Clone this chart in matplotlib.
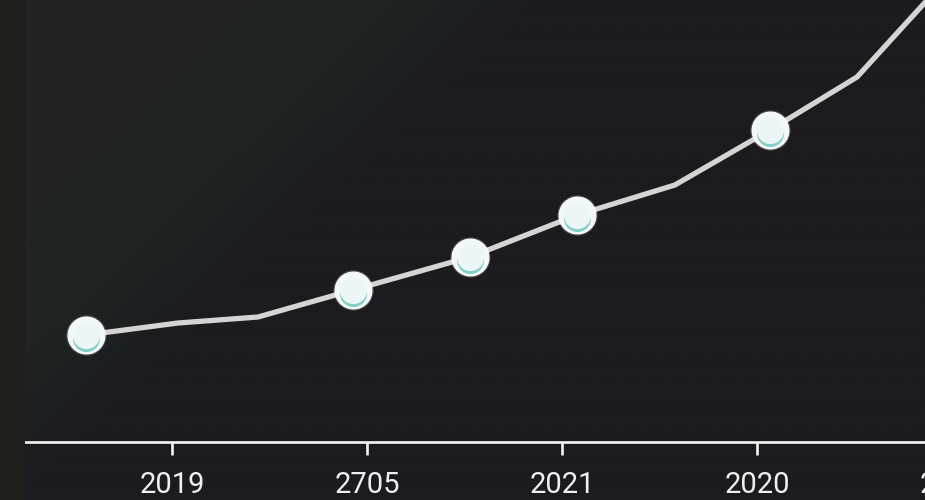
import numpy as np
import matplotlib
matplotlib.use("Agg")
import matplotlib.pyplot as plt
from matplotlib.transforms import offset_copy
from matplotlib.patches import Rectangle

# ---- data ----
tick_labels = ["2019", "2705", "2021", "2020", "2022"]
tick_pos = [0, 1, 2, 3, 4]
x_vals = [-0.441, 0.031, 0.441, 0.928, 1.528, 2.077, 2.579, 3.067, 3.513, 3.99]
y_vals = [107, 119, 125, 152, 185, 227, 257, 312, 365, 467]
marker_idx = [0, 3, 4, 5, 7]

W, H, DPI = 925, 500, 100
fig = plt.figure(figsize=(W / DPI, H / DPI), dpi=DPI)
fig.patch.set_facecolor("#1c1b1f")

# left strip
fig.patches.append(Rectangle((0, 0), 25 / W, 1, transform=fig.transFigure,
                             facecolor="#1e1e1c", edgecolor="none", zorder=0))

# background gradient (decoration)
bg = fig.add_axes([25 / W, 0, 900 / W, 1])
bg.set_axis_off()
px = np.linspace(25, 925, 300)
py = np.linspace(0, 500, 170)
PX, PY = np.meshgrid(px, py)
s = PX + 1.05 * PY
light = np.array([35, 35, 36]) / 255
band = np.array([31, 36, 34]) / 255
dark = np.array([28, 27, 31]) / 255
t1 = np.clip((s - 250) / 130, 0, 1)[..., None]
t2 = np.clip((s - 400) / 130, 0, 1)[..., None]
img = light * (1 - t1) + band * t1
img = img * (1 - t2) + dark * t2
bg.imshow(img, extent=(25, 925, 500, 0), aspect="auto", interpolation="bilinear")
bg.set_xlim(25, 925)
bg.set_ylim(500, 0)

# main axes
x_left = -0.754
x_right = 4.3
px0, pscale = 172, 195
right_px = px0 + pscale * x_right
ax = fig.add_axes([25 / W, 58 / H, (right_px - 25) / W, 442 / H])
ax.patch.set_alpha(0)
ax.set_xlim(x_left, x_right)
ax.set_ylim(0, 442)

ax.plot(x_vals, y_vals, color="#d4d4d4", lw=3.8, solid_joinstyle="miter",
        solid_capstyle="butt", zorder=3)

mx = [x_vals[i] for i in marker_idx]
my = [y_vals[i] for i in marker_idx]
# soft halo
ax.plot(mx, my, ls="none", marker="o", ms=29, mfc="#ffffff", mec="none",
        alpha=0.22, zorder=4)
ax.plot(mx, my, ls="none", marker="o", ms=26.5, mfc="#f2f8f9", mec="#ffffff",
        mew=0.8, zorder=4)
tr_teal = offset_copy(ax.transData, fig=fig, x=0, y=-3, units="dots")
ax.plot(mx, my, ls="none", marker="o", ms=19.5, mfc="#86cdc7", mec="none",
        transform=tr_teal, zorder=5)
tr_cover = offset_copy(ax.transData, fig=fig, x=0, y=0.5, units="dots")
ax.plot(mx, my, ls="none", marker="o", ms=19.5, mfc="#edf6f7", mec="none",
        transform=tr_cover, zorder=6)

for sp in ["top", "right", "left"]:
    ax.spines[sp].set_visible(False)
ax.spines["bottom"].set_color("#f4f4f4")
ax.spines["bottom"].set_linewidth(1.9)
ax.set_yticks([])
ax.set_xticks(tick_pos)
ax.set_xticklabels(tick_labels)
ax.tick_params(axis="x", colors="#f4f4f4", length=9.5, width=1.9, pad=11.5,
               labelsize=21, labelcolor="#f0f0f0")
for lab in ax.get_xticklabels():
    lab.set_fontfamily("Roboto")

fig.savefig("out.png", dpi=DPI, facecolor=fig.get_facecolor())
